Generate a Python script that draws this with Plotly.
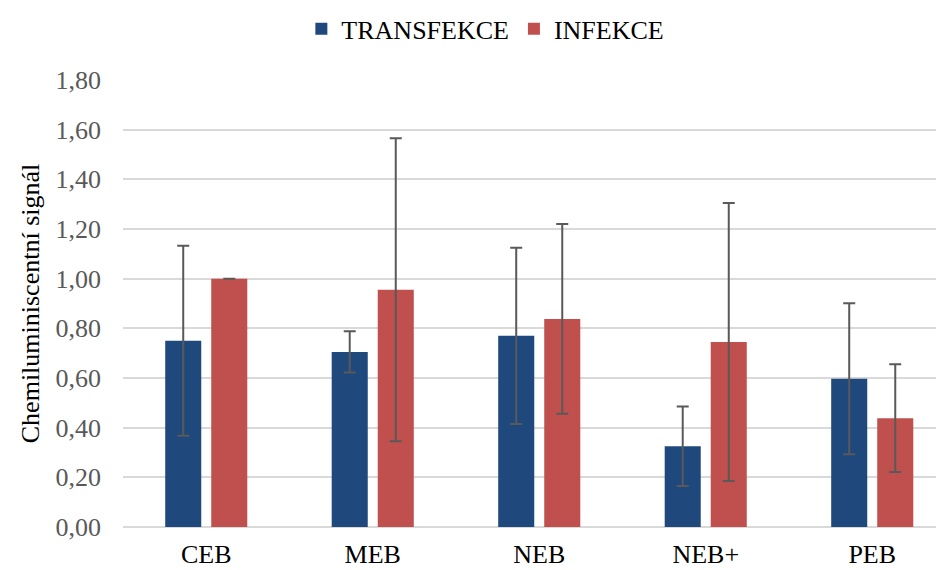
import plotly.graph_objects as go

categories = ["CEB", "MEB", "NEB", "NEB+", "PEB"]
transfekce = [0.75, 0.705, 0.77, 0.325, 0.597]
transfekce_err = [0.383, 0.083, 0.355, 0.16, 0.304]
infekce = [1.00, 0.955, 0.838, 0.745, 0.438]
infekce_err = [0.0, 0.61, 0.382, 0.56, 0.217]
y_ticks = [0, 0.2, 0.4, 0.6, 0.8, 1.0, 1.2, 1.4, 1.6, 1.8]

font_family = "Liberation Serif"
err_style = dict(type="data", visible=True, color="#595959", thickness=2, width=6)

fig = go.Figure()
fig.add_trace(go.Bar(
    x=categories, y=transfekce, name="TRANSFEKCE",
    marker=dict(color="#1F497D", line=dict(width=0)),
    error_y=dict(array=transfekce_err, **err_style),
))
fig.add_trace(go.Bar(
    x=categories, y=infekce, name="INFEKCE",
    marker=dict(color="#C0504D", line=dict(width=0)),
    error_y=dict(array=infekce_err, **err_style),
))

fig.update_layout(
    width=936, height=562,
    margin=dict(l=115, r=4, t=72, b=43),
    paper_bgcolor="white", plot_bgcolor="white",
    barmode="group", bargap=0.447, bargroupgap=0.217,
    separators=",.",
    font=dict(family=font_family, size=26, color="black"),
    legend=dict(orientation="h", x=0.51, xanchor="center", xref="container",
                y=0.963, yanchor="middle", yref="container",
                font=dict(family=font_family, size=26, color="black"),
                itemwidth=30),
    xaxis=dict(range=[-0.5, 4.407], showgrid=False, showline=False, zeroline=False,
               tickfont=dict(family=font_family, size=26, color="black"), ticks="",
               ticklabelstandoff=9, automargin=False),
    yaxis=dict(range=[0, 1.8], tickvals=y_ticks, tickformat=".2f",
               showgrid=True, gridcolor="#D9D9D9", gridwidth=1.5,
               zeroline=True, zerolinecolor="#D9D9D9", zerolinewidth=1.5,
               showline=False, ticks="", ticklabelstandoff=21, automargin=False,
               tickfont=dict(family=font_family, size=26, color="#595959"),
               title=dict(text="Chemiluminiscentní signál",
                          font=dict(family=font_family, size=26, color="black"), standoff=8)),
)

fig.write_html("out.html")
